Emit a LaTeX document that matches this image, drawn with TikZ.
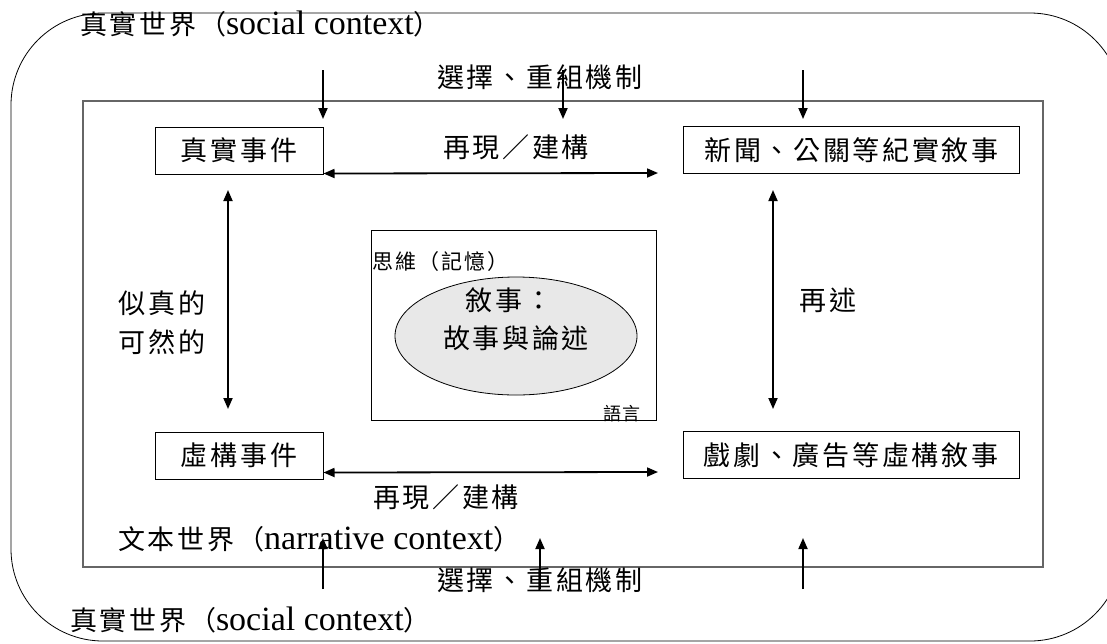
\documentclass[tikz,border=0pt]{standalone}
\usepackage{fontspec}
\setmainfont{Noto Sans CJK TC}[LetterSpace=10]
\newfontfamily\lat{Liberation Serif}
\usetikzlibrary{arrows.meta,shapes.geometric}
\newcommand{\en}[1]{{\lat\fontsize{34}{38}\selectfont #1}}
\begin{document}
\begin{tikzpicture}[x=1pt,y=-1pt,
  box/.style={draw, line width=1pt, minimum width=168pt, minimum height=47pt, inner sep=0pt, font=\fontsize{27}{32}\selectfont},
  widebox/.style={box, minimum width=336pt},
  lbl/.style={inner sep=0pt, font=\fontsize{27}{32}\selectfont},
  small/.style={inner sep=0pt, font=\fontsize{21}{26}\selectfont},
  tiny/.style={inner sep=0pt, font=\fontsize{18}{22}\selectfont},
  arr/.style={line width=1.8pt, -{Triangle[length=11pt,width=9pt]}},
  darr/.style={line width=1.8pt, {Triangle[length=11pt,width=9pt]}-{Triangle[length=11pt,width=9pt]}}]
\useasboundingbox (0,0) rectangle (1107,643);
% outer world and inner text world
\draw[line width=0.8pt, rounded corners=92pt] (11,13) rectangle (1122,641);
\draw[gray!80!black, line width=1.3pt] (83,101) rectangle (1043,567);
% world labels
\node[lbl, anchor=west] (sw1) at (80,24) {真實世界（\en{social context}）};
\node[lbl, anchor=west] (sel1) at (437,77) {選擇、重組機制};
\node[lbl, anchor=west] (tw) at (118,539) {文本世界（\en{narrative context}）};
\node[lbl, anchor=west] (sel2) at (437,580) {選擇、重組機制};
\node[lbl, anchor=west] (sw2) at (70,620) {真實世界（\en{social context}）};
% event boxes
\node[box] (real) at (239,150.5) {真實事件};
\node[widebox] (news) at (851.5,150) {新聞、公關等紀實敘事};
\node[box] (fict) at (239,455.5) {虛構事件};
\node[widebox] (drama) at (851,455) {戲劇、廣告等虛構敘事};
% labels
\node[lbl] (rep1) at (516,147) {再現／建構};
\node[lbl] (rep2) at (446,497) {再現／建構};
\node[lbl] (sim1) at (162,303) {似真的};
\node[lbl] (sim2) at (162,342) {可然的};
\node[lbl] (retell) at (828,300) {再述};
% centre
\node[draw, line width=1pt, minimum width=285pt, minimum height=190pt, inner sep=0pt] (mind) at (513.5,325) {};
\node[small, anchor=west] (think) at (372,262) {思維（記憶）};
\node[ellipse, draw, line width=0.8pt, fill=gray!18, minimum width=242pt, minimum height=118pt, inner sep=0pt] (narr) at (516,336) {};
\node[lbl] (n1) at (509,300) {敘事：};
\node[lbl] (n2) at (516,338) {故事與論述};
\node[tiny, anchor=east] (lang) at (641,414) {語言};
% top arrows
\coordinate (a1s) at (323,70); \coordinate (a1e) at (323,119);
\coordinate (a2s) at (563,70); \coordinate (a2e) at (563,119);
\coordinate (a3s) at (803,70); \coordinate (a3e) at (803,119);
\draw[arr] (a1s) -- (a1e);
\draw[arr] (a2s) -- (a2e);
\draw[arr] (a3s) -- (a3e);
% bottom arrows
\coordinate (b1s) at (323,589); \coordinate (b1e) at (323,538);
\coordinate (b2s) at (540,589); \coordinate (b2e) at (540,538);
\coordinate (b3s) at (803,589); \coordinate (b3e) at (803,538);
\draw[arr] (b1s) -- (b1e);
\draw[arr] (b2s) -- (b2e);
\draw[arr] (b3s) -- (b3e);
% horizontal double arrows
\coordinate (h1) at (658,173);
\coordinate (h2) at (658,472);
\draw[darr] ([yshift=1pt]real.south east) -- (h1);
\draw[darr] ([yshift=7pt]fict.south east) -- (h2);
% vertical double arrows
\coordinate (v1t) at (228,190); \coordinate (v1b) at (228,409);
\coordinate (v2t) at (773,190); \coordinate (v2b) at (773,409);
\draw[darr] (v1t) -- (v1b);
\draw[darr] (v2t) -- (v2b);
\end{tikzpicture}
\end{document}
